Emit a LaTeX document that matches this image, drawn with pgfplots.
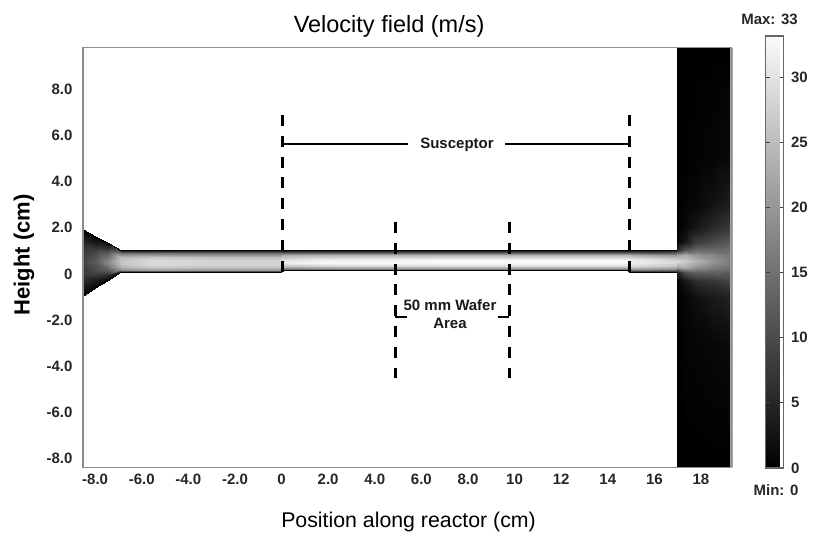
\documentclass[border=0pt]{standalone}
\usepackage{pgfplots}
\usepackage{fontspec}
\setmainfont{Liberation Sans}
\pgfplotsset{compat=1.18}
\definecolor{axgray}{gray}{0.55}
\newcommand{\fs}[1]{\fontsize{#1}{#1}\selectfont}
\begin{document}
\begin{tikzpicture}[x=1pt,y=1pt]
\useasboundingbox (0,0) rectangle (817,535);
\begin{axis}[
  at={(83pt,67.5pt)}, anchor=south west,
  scale only axis, width=648.5pt, height=420pt,
  xmin=-8.52, xmax=19.31, ymin=-8.38, ymax=9.80,
  axis line style={axgray, line width=1.3pt},
  major tick length=0pt, clip=false,
  xtick={-8,-6,-4,-2,0,2,4,6,8,10,12,14,16,18},
  xticklabels={-8.0,-6.0,-4.0,-2.0,0,2.0,4.0,6.0,8.0,10,12,14,16,18},
  ytick={-8,-6,-4,-2,0,2,4,6,8},
  yticklabels={-8.0,-6.0,-4.0,-2.0,0,2.0,4.0,6.0,8.0},
  tick label style={font=\fs{15}\bfseries\color{black!85}},
  xticklabel style={yshift=-3pt},
  yticklabel style={xshift=-7pt},
  title={Velocity field (m/s)},
  title style={at={(axis description cs:0.472,1.037)}, anchor=center, font=\fs{23.5}},
  xlabel={Position along reactor (cm)},
  xlabel style={at={(axis description cs:0.502,-0.13)}, anchor=center, font=\fs{21.3}},
  ylabel={Height (cm)},
  ylabel style={at={(axis description cs:-0.091,0.506)}, anchor=center, rotate=0, font=\fs{22}\bfseries},
  colormap={bwfield}{gray(0cm)=(0); gray(1cm)=(0.98)},
  point meta min=0, point meta max=33.2,
  colorbar,
  colorbar style={
    at={(1.0525,-0.001)}, anchor=south west,
    scale only axis, width=18pt, height=432pt,
    ytick={0,5,10,15,20,25,30},
    yticklabels={0,5,10,15,20,25,30},
    major tick length=4pt, tick align=inside,
    ytick pos=both, yticklabel pos=right,
    every tick/.style={black!75, line width=1pt},
    axis line style={black!60, line width=1.3pt},
    tick label style={font=\fs{15}\bfseries\color{black!85}},
    yticklabel style={xshift=4pt},
  },
  axis on top,
]
% inlet cone
\addplot[surf, shader=interp, mesh/cols=7, point meta=explicit] table[x=x,y=y,meta=v] {
x y v
-8.52 -0.95 0
-8.52 -0.51 4
-8.52 -0.08 7
-8.52 0.50 9
-8.52 1.08 7
-8.52 1.51 4
-8.52 1.95 0
-8.0 -0.622 0
-8.0 -0.28 4
-8.0 0.06 9
-8.0 0.52 12
-8.0 0.97 9
-8.0 1.31 4
-8.0 1.655 0
-7.5 -0.307 0
-7.5 -0.055 6
-7.5 0.196 13
-7.5 0.53 18
-7.5 0.87 13
-7.5 1.12 6
-7.5 1.371 0
-6.9 0.07 2
-6.9 0.21 20
-6.9 0.36 24
-6.9 0.55 26
-6.9 0.74 25
-6.9 0.89 15
-6.9 1.03 0
};
% channel before the susceptor
\addplot[surf, shader=interp, mesh/cols=8, point meta=explicit] table[x=x,y=y,meta=v] {
x y v
-6.9 0.07 2
-6.9 0.15 19
-6.9 0.30 24
-6.9 0.45 26
-6.9 0.60 26
-6.9 0.75 24
-6.9 0.90 15
-6.9 1.03 0
-5.5 0.07 2
-5.5 0.15 21
-5.5 0.30 27
-5.5 0.45 29
-5.5 0.60 29
-5.5 0.75 26
-5.5 0.90 15
-5.5 1.03 0
-3.0 0.07 2
-3.0 0.15 20
-3.0 0.30 26
-3.0 0.45 28
-3.0 0.60 28
-3.0 0.75 25
-3.0 0.90 15
-3.0 1.03 0
0.0 0.07 2
0.0 0.15 20
0.0 0.30 26
0.0 0.45 28
0.0 0.60 28
0.0 0.75 25
0.0 0.90 15
0.0 1.03 0
};
% channel over the susceptor
\addplot[surf, shader=interp, mesh/cols=7, point meta=explicit] table[x=x,y=y,meta=v] {
x y v
0.0 0.13 0
0.0 0.22 15
0.0 0.33 26
0.0 0.47 31
0.0 0.62 30
0.0 0.80 23
0.0 1.03 0
2.0 0.13 0
2.0 0.22 17
2.0 0.33 28
2.0 0.47 33
2.0 0.62 32
2.0 0.80 24
2.0 1.03 0
7.0 0.13 0
7.0 0.22 17
7.0 0.33 29
7.0 0.47 33
7.0 0.62 33
7.0 0.80 24
7.0 1.03 0
15.0 0.13 0
15.0 0.22 17
15.0 0.33 29
15.0 0.47 33
15.0 0.62 33
15.0 0.80 24
15.0 1.03 0
};
% channel after the susceptor
\addplot[surf, shader=interp, mesh/cols=7, point meta=explicit] table[x=x,y=y,meta=v] {
x y v
15.0 0.07 3
15.0 0.22 21
15.0 0.36 29
15.0 0.52 32
15.0 0.66 31
15.0 0.82 23
15.0 1.03 0
16.96 0.07 3
16.96 0.22 19
16.96 0.36 26
16.96 0.52 29
16.96 0.66 27
16.96 0.82 20
16.96 1.03 3
};
% outlet
\addplot[surf, shader=interp, mesh/cols=14, point meta=explicit] table[x=x,y=y,meta=v] {
x y v
16.96 -8.38 0
16.96 -3 0
16.96 -1 0
16.96 -0.3 0.3
16.96 0.07 5
16.96 0.3 22
16.96 0.55 29
16.96 0.8 22
16.96 1.03 5
16.96 1.4 0.3
16.96 2 0
16.96 3 0
16.96 5 0
16.96 9.8 0
17.3 -8.38 0
17.3 -3 0.5
17.3 -1 1
17.3 -0.3 3
17.3 0.07 11
17.3 0.3 23
17.3 0.55 27
17.3 0.8 23
17.3 1.03 11
17.3 1.4 3
17.3 2 1
17.3 3 0.5
17.3 5 0
17.3 9.8 0
17.8 -8.38 0
17.8 -3 0.7
17.8 -1 2
17.8 -0.3 6
17.8 0.07 13
17.8 0.3 20
17.8 0.55 24
17.8 0.8 20
17.8 1.03 14
17.8 1.4 8
17.8 2 3
17.8 3 1
17.8 5 0.3
17.8 9.8 0
18.5 -8.38 0
18.5 -3 1
18.5 -1 3.5
18.5 -0.3 7
18.5 0.07 13
18.5 0.3 17
18.5 0.55 20
18.5 0.8 18
18.5 1.03 14
18.5 1.4 10
18.5 2 5.5
18.5 3 2.5
18.5 5 0.7
18.5 9.8 0
19.31 -8.38 0
19.31 -3 1.5
19.31 -1 4.5
19.31 -0.3 9
19.31 0.07 12
19.31 0.3 14.5
19.31 0.55 16
19.31 0.8 15.5
19.31 1.03 14.5
19.31 1.4 12
19.31 2 8
19.31 3 4
19.31 5 1.3
19.31 9.8 0
};
% reactor walls
\addplot[black, line width=1pt, forget plot] coordinates {(-6.9,1.03) (16.96,1.03)};
\addplot[black, line width=1pt, forget plot] coordinates {(-6.9,0.07) (0,0.07) (0,0.13) (14.95,0.13) (14.95,0.07) (16.96,0.07)};
% right edge of the plot
\addplot[black!35, line width=2.6pt, forget plot] coordinates {(19.31,-8.38) (19.31,9.8)};
% susceptor marks
\addplot[black, line width=2.8pt, dash pattern=on 11pt off 9.8pt, forget plot] coordinates {(0.03,6.88) (0.03,0.1)};
\addplot[black, line width=2.8pt, dash pattern=on 11pt off 9.8pt, forget plot] coordinates {(14.92,6.88) (14.92,0.1)};
\addplot[black, line width=2pt, forget plot] coordinates {(0.03,5.63) (5.43,5.63)};
\addplot[black, line width=2pt, forget plot] coordinates {(9.59,5.63) (14.92,5.63)};
\node[font=\fs{15}\bfseries, text=black!90] at (axis cs:7.53,5.58) {Susceptor};
% wafer marks
\addplot[black, line width=2.8pt, dash pattern=on 11pt off 9.8pt, forget plot] coordinates {(4.89,2.25) (4.89,-4.5)};
\addplot[black, line width=2.8pt, dash pattern=on 11pt off 9.8pt, forget plot] coordinates {(9.78,2.25) (9.78,-4.5)};
\addplot[black, line width=2pt, forget plot] coordinates {(4.89,-1.86) (5.4,-1.86)};
\addplot[black, line width=2pt, forget plot] coordinates {(9.27,-1.86) (9.78,-1.86)};
\node[font=\fs{15}\bfseries, text=black!90] at (axis cs:7.23,-1.34) {50 mm Wafer};
\node[font=\fs{15}\bfseries, text=black!90] at (axis cs:7.23,-2.14) {Area};
\end{axis}
\node[font=\fs{15}\bfseries, text=black!85] at (769.5,516) {Max: 33};
\node[font=\fs{15}\bfseries, text=black!85] at (776,45) {Min: 0};
\end{tikzpicture}
\end{document}
